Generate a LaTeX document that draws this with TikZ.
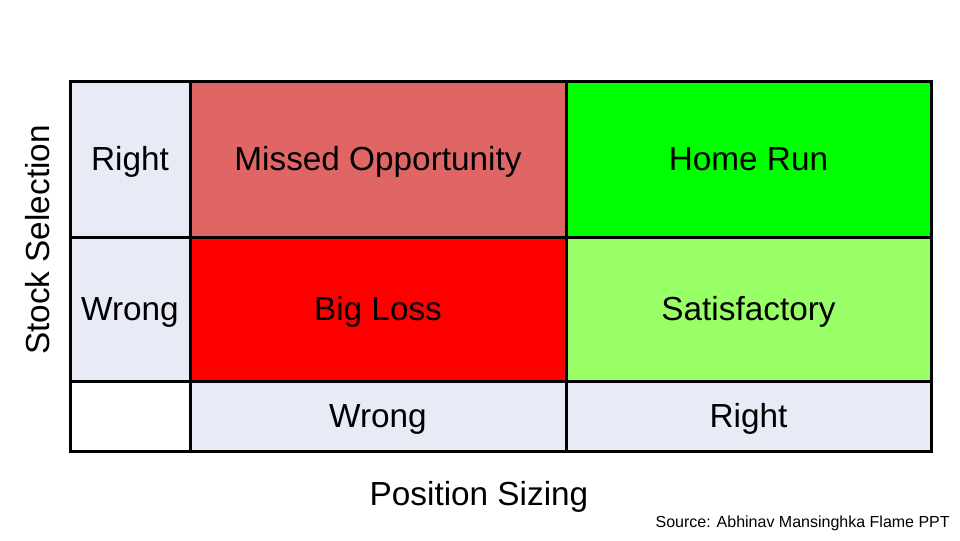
\documentclass[tikz,border=0pt]{standalone}
\usepackage{fontspec}
\setmainfont{Liberation Sans}
\definecolor{lightcell}{HTML}{E8EAF6}
\definecolor{missed}{HTML}{E06666}
\definecolor{homerun}{HTML}{00FF00}
\definecolor{bigloss}{HTML}{FF0000}
\definecolor{satis}{HTML}{99FF66}
\begin{document}
\begin{tikzpicture}[x=0.75pt,y=-0.75pt,
  cell/.style={draw=black,line width=2.25pt,inner sep=0pt,outer sep=0pt,
    font=\fontsize{25}{29}\selectfont,text=black,text height=17.9pt,text depth=0pt},
  axislabel/.style={font=\fontsize{25}{29}\selectfont,text=black,inner sep=0pt,text height=17.9pt,text depth=0pt},
  srclabel/.style={font=\fontsize{12}{14}\selectfont,text=black,inner sep=0pt}]
\useasboundingbox (0,0) rectangle (960,540);
% column x: 70,190,566,931 ; row y: 81,237,381,451
\node[cell,fill=lightcell,minimum width=120*0.75pt,minimum height=156*0.75pt] (rr) at (130,159) {Right};
\node[cell,fill=missed,minimum width=376*0.75pt,minimum height=156*0.75pt] (mo) at (378,159) {Missed Opportunity};
\node[cell,fill=homerun,minimum width=365*0.75pt,minimum height=156*0.75pt] (hr) at (748.5,159) {Home Run};
\node[cell,fill=lightcell,minimum width=120*0.75pt,minimum height=144*0.75pt] (rw) at (130,309) {Wrong};
\node[cell,fill=bigloss,minimum width=376*0.75pt,minimum height=144*0.75pt] (bl) at (378,309) {Big Loss};
\node[cell,fill=satis,minimum width=365*0.75pt,minimum height=144*0.75pt] (sa) at (748.5,309) {Satisfactory};
\node[cell,fill=white,minimum width=120*0.75pt,minimum height=70*0.75pt] (corner) at (130,416) {};
\node[cell,fill=lightcell,minimum width=376*0.75pt,minimum height=70*0.75pt] (cw) at (378,416) {Wrong};
\node[cell,fill=lightcell,minimum width=365*0.75pt,minimum height=70*0.75pt] (cr) at (748.5,416) {Right};
\node[axislabel] (ps) at (479,494) {Position Sizing};
\node[axislabel,rotate=90] (ss) at (38,240) {Stock Selection};
\node[srclabel,anchor=east] (src) at (950,523) {Source: Abhinav Mansinghka Flame PPT};
\end{tikzpicture}
\end{document}
